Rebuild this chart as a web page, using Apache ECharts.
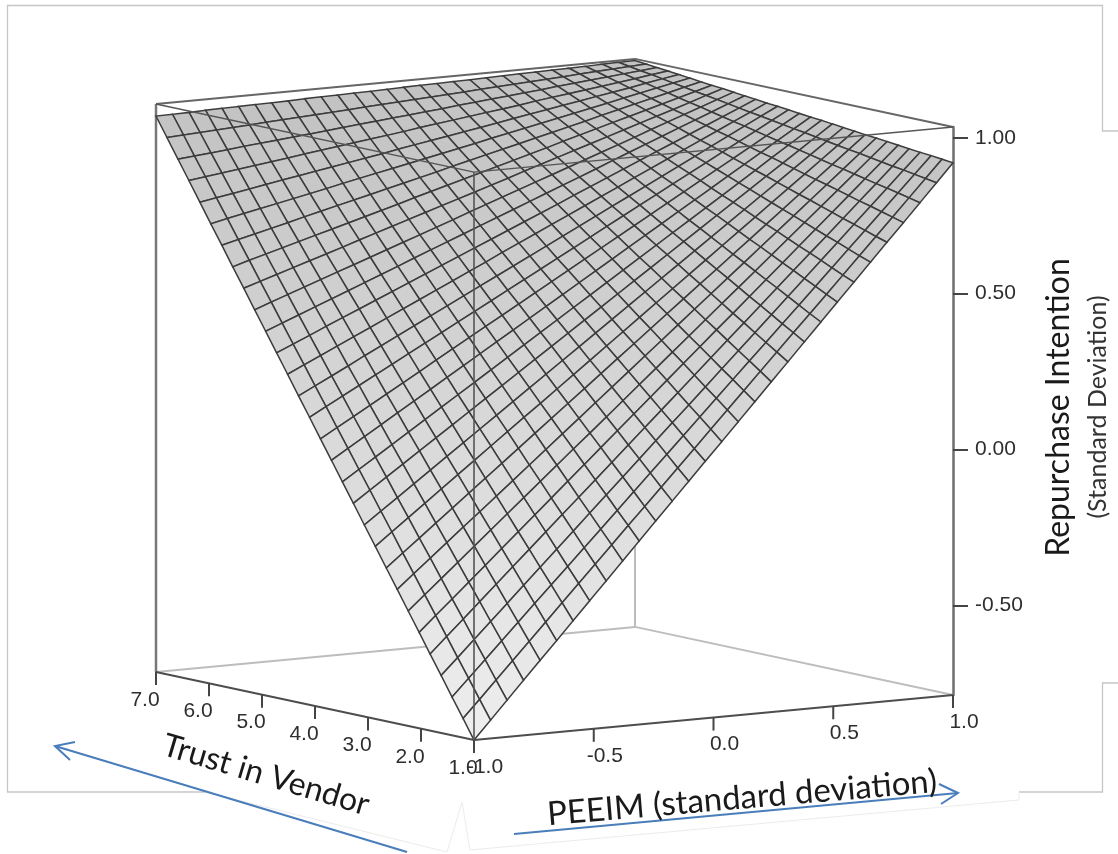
<!DOCTYPE html>
<html>
<head>
<meta charset="utf-8">
<style>html,body{margin:0;padding:0;background:#fff}#c{width:1118px;height:854px}</style>
<script src="https://cdn.jsdelivr.net/npm/echarts@6/dist/echarts.min.js"></script>
</head>
<body>
<div id="c"></div>
<script>
const trustTicks = [7, 6, 5, 4, 3, 2, 1];
const peeimTicks = [-1, -0.5, 0, 0.5, 1];
const repurchaseTicks = [-0.5, 0, 0.5, 1];
const trustRange = [1, 7];
const peeimRange = [-1, 1];
const repurchaseRange = [-0.788, 1.035];
// rows: trust from 1.0 to 7.0, columns: PEEIM from -1.0 to 1.0
const surfaceRows = [
[-0.788,-0.729,-0.670,-0.611,-0.552,-0.494,-0.435,-0.376,-0.317,-0.258,-0.199,-0.140,-0.081,-0.022,0.037,0.095,0.154,0.213,0.272,0.331,0.390,0.449,0.508,0.567,0.626,0.685,0.743,0.802,0.861,0.920],
[-0.726,-0.670,-0.613,-0.556,-0.499,-0.442,-0.385,-0.328,-0.271,-0.214,-0.157,-0.101,-0.044,0.013,0.070,0.127,0.184,0.241,0.298,0.355,0.412,0.468,0.525,0.582,0.639,0.696,0.753,0.810,0.867,0.924],
[-0.665,-0.610,-0.555,-0.500,-0.445,-0.390,-0.335,-0.281,-0.226,-0.171,-0.116,-0.061,-0.006,0.049,0.104,0.159,0.214,0.269,0.324,0.378,0.433,0.488,0.543,0.598,0.653,0.708,0.763,0.818,0.873,0.928],
[-0.603,-0.551,-0.498,-0.445,-0.392,-0.339,-0.286,-0.233,-0.180,-0.127,-0.074,-0.021,0.032,0.085,0.138,0.190,0.243,0.296,0.349,0.402,0.455,0.508,0.561,0.614,0.667,0.720,0.773,0.826,0.879,0.931],
[-0.542,-0.491,-0.440,-0.389,-0.338,-0.287,-0.236,-0.185,-0.134,-0.084,-0.033,0.018,0.069,0.120,0.171,0.222,0.273,0.324,0.375,0.426,0.477,0.528,0.579,0.630,0.680,0.731,0.782,0.833,0.884,0.935],
[-0.480,-0.431,-0.383,-0.334,-0.285,-0.236,-0.187,-0.138,-0.089,-0.040,0.009,0.058,0.107,0.156,0.205,0.254,0.303,0.352,0.401,0.449,0.498,0.547,0.596,0.645,0.694,0.743,0.792,0.841,0.890,0.939],
[-0.419,-0.372,-0.325,-0.278,-0.231,-0.184,-0.137,-0.090,-0.043,0.004,0.051,0.097,0.144,0.191,0.238,0.285,0.332,0.379,0.426,0.473,0.520,0.567,0.614,0.661,0.708,0.755,0.802,0.849,0.896,0.943],
[-0.357,-0.312,-0.267,-0.222,-0.177,-0.133,-0.088,-0.043,0.002,0.047,0.092,0.137,0.182,0.227,0.272,0.317,0.362,0.407,0.452,0.497,0.542,0.587,0.632,0.677,0.722,0.767,0.812,0.857,0.902,0.947],
[-0.296,-0.253,-0.210,-0.167,-0.124,-0.081,-0.038,0.005,0.048,0.091,0.134,0.177,0.220,0.263,0.306,0.349,0.392,0.435,0.478,0.521,0.563,0.606,0.649,0.692,0.735,0.778,0.821,0.864,0.907,0.950],
[-0.234,-0.193,-0.152,-0.111,-0.070,-0.029,0.012,0.053,0.094,0.135,0.175,0.216,0.257,0.298,0.339,0.380,0.421,0.462,0.503,0.544,0.585,0.626,0.667,0.708,0.749,0.790,0.831,0.872,0.913,0.954],
[-0.173,-0.134,-0.095,-0.056,-0.017,0.022,0.061,0.100,0.139,0.178,0.217,0.256,0.295,0.334,0.373,0.412,0.451,0.490,0.529,0.568,0.607,0.646,0.685,0.724,0.763,0.802,0.841,0.880,0.919,0.958],
[-0.111,-0.074,-0.037,0.000,0.037,0.074,0.111,0.148,0.185,0.222,0.259,0.296,0.333,0.370,0.407,0.444,0.481,0.518,0.555,0.592,0.629,0.666,0.703,0.740,0.777,0.814,0.851,0.888,0.925,0.962],
[-0.050,-0.015,0.020,0.055,0.090,0.125,0.160,0.195,0.230,0.265,0.300,0.335,0.370,0.405,0.440,0.475,0.510,0.545,0.580,0.615,0.650,0.685,0.720,0.755,0.790,0.825,0.861,0.896,0.931,0.966],
[0.012,0.045,0.078,0.111,0.144,0.177,0.210,0.243,0.276,0.309,0.342,0.375,0.408,0.441,0.474,0.507,0.540,0.573,0.606,0.639,0.672,0.705,0.738,0.771,0.804,0.837,0.870,0.903,0.936,0.969],
[0.073,0.104,0.135,0.166,0.197,0.228,0.259,0.291,0.322,0.353,0.384,0.415,0.446,0.477,0.508,0.539,0.570,0.601,0.632,0.663,0.694,0.725,0.756,0.787,0.818,0.849,0.880,0.911,0.942,0.973],
[0.135,0.164,0.193,0.222,0.251,0.280,0.309,0.338,0.367,0.396,0.425,0.454,0.483,0.512,0.541,0.570,0.599,0.628,0.658,0.687,0.716,0.745,0.774,0.803,0.832,0.861,0.890,0.919,0.948,0.977],
[0.196,0.223,0.250,0.277,0.305,0.332,0.359,0.386,0.413,0.440,0.467,0.494,0.521,0.548,0.575,0.602,0.629,0.656,0.683,0.710,0.737,0.764,0.791,0.818,0.845,0.873,0.900,0.927,0.954,0.981],
[0.258,0.283,0.308,0.333,0.358,0.383,0.408,0.433,0.458,0.483,0.508,0.533,0.558,0.584,0.609,0.634,0.659,0.684,0.709,0.734,0.759,0.784,0.809,0.834,0.859,0.884,0.909,0.934,0.959,0.984],
[0.319,0.342,0.365,0.389,0.412,0.435,0.458,0.481,0.504,0.527,0.550,0.573,0.596,0.619,0.642,0.665,0.688,0.711,0.735,0.758,0.781,0.804,0.827,0.850,0.873,0.896,0.919,0.942,0.965,0.988],
[0.381,0.402,0.423,0.444,0.465,0.486,0.507,0.528,0.549,0.571,0.592,0.613,0.634,0.655,0.676,0.697,0.718,0.739,0.760,0.781,0.802,0.824,0.845,0.866,0.887,0.908,0.929,0.950,0.971,0.992],
[0.442,0.462,0.481,0.500,0.519,0.538,0.557,0.576,0.595,0.614,0.633,0.652,0.671,0.691,0.710,0.729,0.748,0.767,0.786,0.805,0.824,0.843,0.862,0.881,0.901,0.920,0.939,0.958,0.977,0.996],
[0.504,0.521,0.538,0.555,0.572,0.589,0.606,0.624,0.641,0.658,0.675,0.692,0.709,0.726,0.743,0.760,0.777,0.795,0.812,0.829,0.846,0.863,0.880,0.897,0.914,0.931,0.948,0.965,0.983,1.000],
[0.565,0.581,0.596,0.611,0.626,0.641,0.656,0.671,0.686,0.701,0.716,0.732,0.747,0.762,0.777,0.792,0.807,0.822,0.837,0.852,0.868,0.883,0.898,0.913,0.928,0.943,0.958,0.973,0.988,1.003],
[0.627,0.640,0.653,0.666,0.679,0.693,0.706,0.719,0.732,0.745,0.758,0.771,0.784,0.797,0.811,0.824,0.837,0.850,0.863,0.876,0.889,0.902,0.915,0.929,0.942,0.955,0.968,0.981,0.994,1.007],
[0.688,0.700,0.711,0.722,0.733,0.744,0.755,0.766,0.778,0.789,0.800,0.811,0.822,0.833,0.844,0.855,0.866,0.878,0.889,0.900,0.911,0.922,0.933,0.944,0.955,0.967,0.978,0.989,1.000,1.011],
[0.750,0.759,0.768,0.777,0.787,0.796,0.805,0.814,0.823,0.832,0.841,0.850,0.860,0.869,0.878,0.887,0.896,0.905,0.914,0.924,0.933,0.942,0.951,0.960,0.969,0.978,0.987,0.997,1.006,1.015],
[0.812,0.819,0.826,0.833,0.840,0.847,0.854,0.862,0.869,0.876,0.883,0.890,0.897,0.904,0.912,0.919,0.926,0.933,0.940,0.947,0.954,0.962,0.969,0.976,0.983,0.990,0.997,1.004,1.012,1.019],
[0.873,0.878,0.883,0.888,0.894,0.899,0.904,0.909,0.914,0.919,0.925,0.930,0.935,0.940,0.945,0.950,0.955,0.961,0.966,0.971,0.976,0.981,0.986,0.992,0.997,1.002,1.007,1.012,1.017,1.022],
[0.935,0.938,0.941,0.944,0.947,0.950,0.954,0.957,0.960,0.963,0.966,0.969,0.973,0.976,0.979,0.982,0.985,0.988,0.991,0.995,0.998,1.001,1.004,1.007,1.010,1.014,1.017,1.020,1.023,1.026],
[0.996,0.997,0.998,1.000,1.001,1.002,1.003,1.004,1.005,1.007,1.008,1.009,1.010,1.011,1.012,1.014,1.015,1.016,1.017,1.018,1.019,1.021,1.022,1.023,1.024,1.025,1.026,1.028,1.029,1.030]
];

// Oblique view of the cube: how one full axis length shows up on the hidden
// horizontal scale, and on the vertical scale (in repurchase units).
const view = { trustH: -318, peeimH: 479, trustV: 0.2186, peeimV: 0.1447 };

function project(trust, peeim, z) {
  const t = (trust - trustRange[0]) / (trustRange[1] - trustRange[0]);
  const p = (peeim - peeimRange[0]) / (peeimRange[1] - peeimRange[0]);
  return [t * view.trustH + p * view.peeimH,
          z + t * view.trustV - (1 - p) * view.peeimV];
}

const nT = surfaceRows.length, nP = surfaceRows[0].length;
const trustAt = i => trustRange[0] + (trustRange[1] - trustRange[0]) * i / (nT - 1);
const peeimAt = j => peeimRange[0] + (peeimRange[1] - peeimRange[0]) * j / (nP - 1);

// cells painted back to front
const cells = [];
for (let i = nT - 2; i >= 0; i--) for (let j = nP - 2; j >= 0; j--) cells.push([i, j]);

function shade(z) {
  const f = (z - repurchaseRange[0]) / (repurchaseRange[1] - repurchaseRange[0]);
  const g = Math.round(0xEE + (0xC2 - 0xEE) * f);
  return 'rgb(' + g + ',' + g + ',' + g + ')';
}

function renderCell(params, api) {
  const i = api.value(0), j = api.value(1);
  const corners = [[i, j], [i + 1, j], [i + 1, j + 1], [i, j + 1]];
  let sum = 0;
  const pts = corners.map(c => {
    const z = surfaceRows[c[0]][c[1]];
    sum += z;
    return api.coord(project(trustAt(c[0]), peeimAt(c[1]), z));
  });
  return { type: 'polygon', shape: { points: pts },
    style: { fill: shade(sum / 4), stroke: '#3c3c3c', lineWidth: 1.5 } };
}

const zLo = repurchaseRange[0], zHi = repurchaseRange[1];
const tLo = trustRange[0], tHi = trustRange[1], pLo = peeimRange[0], pHi = peeimRange[1];
const backEdges = [
  [tHi,pLo,zLo, tHi,pHi,zLo, '#bdbdbd', 2],
  [tLo,pHi,zLo, tHi,pHi,zLo, '#bdbdbd', 2],
  [tHi,pHi,zLo, tHi,pHi,zHi, '#bdbdbd', 2],
  [tHi,pLo,zHi, tHi,pHi,zHi, '#666666', 2],
  [tLo,pHi,zHi, tHi,pHi,zHi, '#666666', 2],
  [tHi,pLo,zLo, tHi,pLo,zHi, '#777777', 2.5]
];
const frontEdges = [
  [tLo,pLo,zLo, tHi,pLo,zLo, '#4d4d4d', 2],
  [tLo,pLo,zLo, tLo,pHi,zLo, '#4d4d4d', 2],
  [tLo,pLo,zLo, tLo,pLo,zHi, '#555555', 1.6],
  [tLo,pLo,zHi, tHi,pLo,zHi, '#555555', 1.4],
  [tLo,pLo,zHi, tLo,pHi,zHi, '#555555', 1.4]
];
function edgeSeries(edges, z) {
  return { type: 'custom', coordinateSystem: 'cartesian2d', clip: false, silent: true, z,
    data: edges.map((e, k) => [k]),
    renderItem(params, api) {
      const e = edges[api.value(0)];
      const a = api.coord(project(e[0], e[1], e[2]));
      const b = api.coord(project(e[3], e[4], e[5]));
      return { type: 'line', shape: { x1: a[0], y1: a[1], x2: b[0], y2: b[1] },
        style: { stroke: e[6], lineWidth: e[7] } };
    } };
}
function tickSeries(values, toPoint, dx, dy, fmt) {
  return { type: 'custom', coordinateSystem: 'cartesian2d', clip: false, silent: true, z: 6,
    data: values.map(v => [v]),
    renderItem(params, api) {
      const v = api.value(0);
      const c = api.coord(toPoint(v));
      return { type: 'group', children: [
        { type: 'line', shape: { x1: c[0], y1: c[1], x2: c[0], y2: c[1] + 13 },
          style: { stroke: '#444', lineWidth: 2 } },
        { type: 'text', x: c[0] + dx, y: c[1] + dy,
          style: { text: fmt(v), fill: '#2e2e2e', align: 'center', verticalAlign: 'middle',
            font: '21px "Liberation Sans"' } }
      ] };
    } };
}

const blue = '#4a7ebb', faint = '#ececec', frame = '#c6c6c6';
const polyline = (pts, stroke, lineWidth) => ({ type: 'polyline', silent: true, z: 1,
  shape: { points: pts }, style: { stroke, lineWidth, fill: null } });
const calloutText = (text, x, y, size, rotation, fill) => ({ type: 'text', x, y, rotation, z: 10, silent: true,
  style: { text, fill: fill || '#1a1a1a', align: 'center', verticalAlign: 'middle',
    font: size + 'px Lato' } });

const chart = echarts.init(document.getElementById('c'), null, { renderer: 'canvas' });
chart.setOption({
  backgroundColor: '#fff',
  animation: false,
  grid: { left: 156, right: 165, top: 127, bottom: 159, containLabel: false },
  xAxis: { type: 'value', min: view.trustH, max: view.peeimH, show: false },
  yAxis: {
    type: 'value', position: 'right', min: repurchaseRange[0], max: repurchaseRange[1],
    splitLine: { show: false },
    axisLine: { show: true, onZero: false, lineStyle: { color: '#6e6e6e', width: 2.5 } },
    axisTick: { show: true, length: 15, customValues: repurchaseTicks, lineStyle: { color: '#444', width: 2 } },
    axisLabel: { show: true, margin: 22, customValues: repurchaseTicks, color: '#2e2e2e', fontSize: 21,
      fontFamily: 'Liberation Sans', formatter: v => v.toFixed(2) },
    name: 'Repurchase Intention', nameLocation: 'middle', nameRotate: 90, nameGap: 90,
    nameTextStyle: { fontSize: 32, fontFamily: 'Lato', color: '#1a1a1a', padding: [0, 0, 0, 7] }
  },
  graphic: [
    polyline([[205,792],[7.5,792],[7.5,5.5],[1102.5,5.5],[1102.5,131],[1118,131]], frame, 1.3),
    polyline([[1118,683],[1102.5,683],[1102.5,792],[1019,792]], frame, 1.3),
    polyline([[205,792],[447,852],[462,802],[470,850],[1019,800],[1019,792]], faint, 1),
    polyline([[407,852],[55,746]], blue, 2.2),
    polyline([[75,742],[55,746],[70,760]], blue, 2),
    polyline([[514,834],[958,793]], blue, 2.2),
    polyline([[939,784],[958,793],[941,804]], blue, 2),
    calloutText('Trust in Vendor', 266, 775, 32, -0.29),
    calloutText('PEEIM (standard deviation)', 742, 798, 33, 0.085),
    calloutText('(Standard Deviation)', 1098, 407, 25, Math.PI / 2, '#333')
  ],
  series: [
    edgeSeries(backEdges, 2),
    { type: 'custom', name: 'Repurchase Intention', coordinateSystem: 'cartesian2d', clip: false, silent: true,
      z: 3, data: cells, renderItem: renderCell },
    edgeSeries(frontEdges, 4),
    tickSeries(trustTicks, v => project(v, pLo, zLo), -11, 28, v => v.toFixed(1)),
    tickSeries(peeimTicks, v => project(tLo, v, zLo), 11, 27, v => v.toFixed(1))
  ]
});
</script>
</body>
</html>
